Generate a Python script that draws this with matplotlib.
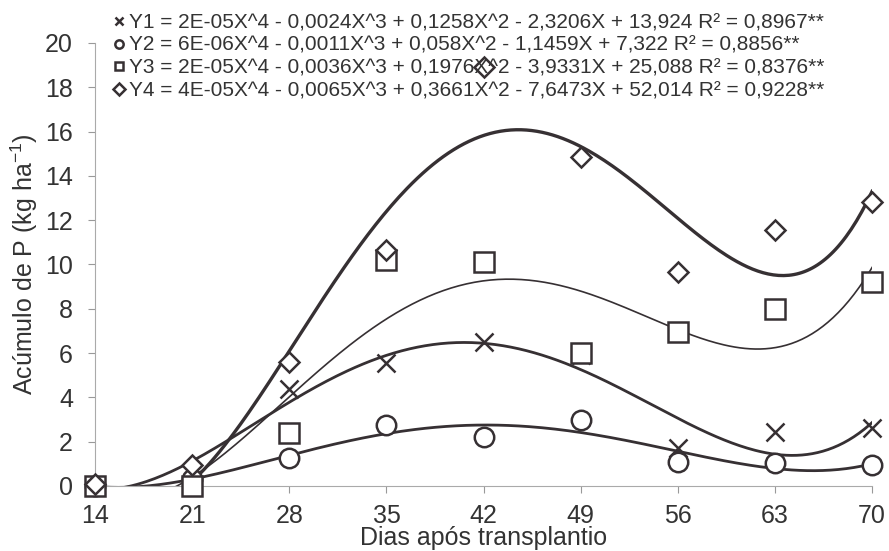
import numpy as np
import matplotlib
matplotlib.use("Agg")
import matplotlib.pyplot as plt

plt.rcParams['font.family'] = ['Liberation Sans', 'DejaVu Sans']

# ===============================
# DATA
# ===============================
dias = [14, 21, 28, 35, 42, 49, 56, 63, 70]
y1 = [0.0, 0.6, 4.4, 5.55, 6.5, 5.9, 1.7, 2.45, 2.6]
y2 = [0.0, 0.3, 1.25, 2.75, 2.2, 3.0, 1.08, 1.04, 0.95]
y3 = [0.0, 0.0, 2.4, 10.2, 10.1, 6.0, 6.95, 8.0, 9.2]
y4 = [0.1, 0.95, 5.6, 10.65, 18.9, 14.85, 9.65, 11.55, 12.8]

labels = [
    "Y1 = 2E-05X^4 - 0,0024X^3 + 0,1258X^2 - 2,3206X + 13,924 R² = 0,8967**",
    "Y2 = 6E-06X^4 - 0,0011X^3 + 0,058X^2 - 1,1459X + 7,322 R² = 0,8856**",
    "Y3 = 2E-05X^4 - 0,0036X^3 + 0,1976X^2 - 3,9331X + 25,088 R² = 0,8376**",
    "Y4 = 4E-05X^4 - 0,0065X^3 + 0,3661X^2 - 7,6473X + 52,014 R² = 0,9228**",
]

# ===============================
# PLOT
# ===============================
ink = "#363033"
txt = "#333333"
fig = plt.figure(figsize=(8.89, 5.51), dpi=100)
ax = fig.add_axes([0.107, 0.118, 0.874, 0.804])

series = [
    (y1, "x", 13, 2.0),
    (y2, "o", 14, 2.0),
    (y3, "s", 14, 1.2),
    (y4, "D", 10, 2.4),
]

# 4th degree polynomial trend lines (clipped at y = 0 like the original)
xs = np.linspace(14, 70, 300)
handles = []
for ys, mk, ms, lw in series:
    coef = np.polyfit(dias, ys, 4)
    ax.plot(xs, np.polyval(coef, xs), color=ink, lw=lw)
    ax.plot(dias, ys, linestyle="none", marker=mk, ms=ms,
            mfc="white" if mk != "x" else ink,
            mec=ink, mew=1.8, clip_on=False, zorder=3)
    handles.append(plt.Line2D([], [], linestyle="none", marker=mk, ms=6,
                              mfc="none", mec=ink, mew=1.8))

ax.set_xlim(14, 70)
ax.set_ylim(0, 20)
ax.set_xticks(dias)
ax.set_yticks(range(0, 21, 2))
ax.tick_params(direction="out", length=5, color="#999999", labelsize=18,
               labelcolor=txt)
ax.tick_params(axis="y", pad=11)
ax.tick_params(axis="x", pad=8)
for s in ["top", "right"]:
    ax.spines[s].set_visible(False)
for s in ["left", "bottom"]:
    ax.spines[s].set_color("#aaaaaa")

ax.set_xlabel("Dias após transplantio", fontsize=18, color=txt)
ax.xaxis.set_label_coords(0.5, -0.118)
ax.xaxis.label.set_va("center")
ax.set_ylabel(r"Acúmulo de P (kg ha$\mathregular{^{-1}}$)", fontsize=18, color=txt)
ax.yaxis.set_label_coords(-0.091, 0.5)
ax.yaxis.label.set_va("center")

fig.legend(handles, labels, loc="upper left", bbox_to_anchor=(0.127, 0.976),
           frameon=False, fontsize=15, handlelength=0.6, handletextpad=0.15,
           labelspacing=0.18, borderpad=0.0, borderaxespad=0.0, labelcolor=txt)

fig.savefig("out.png", dpi=100)
